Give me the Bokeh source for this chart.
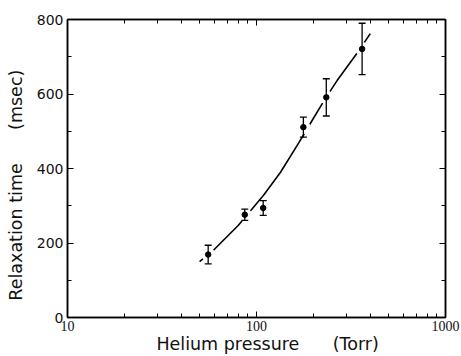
from bokeh.plotting import figure
from bokeh.models import (ColumnDataSource, Whisker, TeeHead, FixedTicker, LogAxis,
                          LinearAxis, Range1d, BasicTickFormatter)
from bokeh.embed import file_html
from bokeh.resources import INLINE

# ---- data ----
pressure = [55.5, 86.7, 108.5, 177.0, 234.0, 362.0]      # Torr
relax = [169, 276, 294, 511, 591, 721]                  # msec
err = [25, 15, 20, 27, 50, 69]                          # msec

curve_p = [50, 59, 80, 109, 134, 167, 185, 232, 267, 341, 400]
curve_t = [150, 180, 247, 328, 390, 468, 506, 589, 636, 710, 762]

x_ticks = [10, 100, 1000]
x_minor = [20, 30, 40, 50, 60, 70, 80, 90, 200, 300, 400, 500, 600, 700, 800, 900]
y_ticks = [0, 200, 400, 600, 800]
y_minor = [100, 300, 500, 700]

NB = "\u00a0"
x_label = NB * 4 + "Helium pressure" + NB * 6 + "(Torr)"
y_label = "Relaxation time" + NB * 6 + "(msec)" + NB * 6

FONT = "DejaVu Sans"

p = figure(width=461, height=356, x_axis_type="log",
           x_range=Range1d(10, 1000), y_range=Range1d(0, 800),
           output_backend="svg", toolbar_location=None,
           min_border_left=67, min_border_right=16,
           min_border_top=19, min_border_bottom=39)
p.xgrid.visible = False
p.ygrid.visible = False
p.outline_line_color = "black"
p.outline_line_width = 1.5
p.background_fill_color = "white"
p.border_fill_color = "white"

def style_axis(ax, ticks, minor, show_labels, serif=False):
    ax.ticker = FixedTicker(ticks=ticks, minor_ticks=minor)
    ax.axis_line_color = "black"
    ax.axis_line_width = 1.5
    ax.major_tick_in = 6
    ax.major_tick_out = 0
    ax.minor_tick_in = 4
    ax.minor_tick_out = 0
    ax.major_tick_line_color = "black"
    ax.minor_tick_line_color = "black"
    ax.major_tick_line_width = 1
    ax.minor_tick_line_width = 1
    if show_labels:
        ax.major_label_text_font = "Liberation Serif" if serif else FONT
        ax.major_label_text_font_size = "15px" if serif else "14px"
        ax.major_label_text_color = "#111111"
    else:
        ax.major_label_text_font_size = "1px"
        ax.major_label_text_alpha = 0
        ax.major_label_standoff = 0

xa = p.xaxis[0]
style_axis(xa, x_ticks, x_minor, True, serif=True)
xa.formatter = BasicTickFormatter()
xa.major_label_text_font_size = "14px"
xa.major_label_standoff = 3
xa.axis_label = x_label
xa.axis_label_text_font = FONT
xa.axis_label_text_font_size = "17.5px"
xa.axis_label_text_font_style = "normal"
xa.axis_label_text_color = "#111111"
xa.axis_label_standoff = 0

ya = p.yaxis[0]
style_axis(ya, y_ticks, y_minor, True)
ya.major_label_standoff = 4
ya.axis_label = y_label
ya.axis_label_text_font = FONT
ya.axis_label_text_font_size = "17.5px"
ya.axis_label_text_font_style = "normal"
ya.axis_label_text_color = "#111111"
ya.axis_label_standoff = 8

top = LogAxis()
style_axis(top, x_ticks, x_minor, False)
p.add_layout(top, "above")
right = LinearAxis()
style_axis(right, y_ticks, y_minor, False)
p.add_layout(right, "right")

# fitted curve
p.line(curve_p, curve_t, line_color="black", line_width=1.6)

src = ColumnDataSource(dict(x=pressure, y=relax,
                            lo=[r - e for r, e in zip(relax, err)],
                            hi=[r + e for r, e in zip(relax, err)]))
# white halos producing the breaks of the curve around the points
p.scatter("x", "y", source=src, size=14, fill_color="white", line_color=None)

w = Whisker(source=src, base="x", upper="hi", lower="lo", dimension="height",
            line_color="black", line_width=1.3, level="overlay",
            upper_head=TeeHead(size=7, line_color="black", line_width=1.3),
            lower_head=TeeHead(size=7, line_color="black", line_width=1.3))
p.add_layout(w)
p.scatter("x", "y", source=src, size=5.5, fill_color="black", line_color="black")

open("out.html", "w").write(file_html(p, INLINE))
